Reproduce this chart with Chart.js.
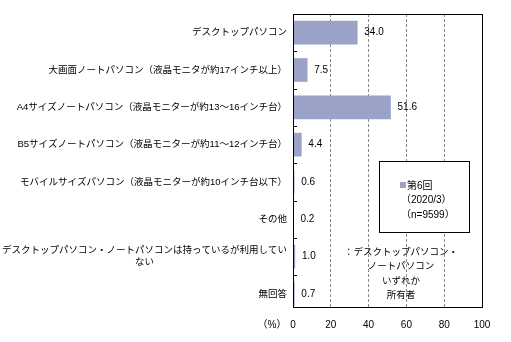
<!DOCTYPE html>
<html>
<head>
<meta charset="utf-8">
<script src="https://cdn.jsdelivr.net/npm/chart.js@4.4.0/dist/chart.umd.min.js"></script>
<style>
  body { margin: 0; background: #fff; }
  canvas { display: block; }
</style>
</head>
<body>
<canvas id="myChart" width="511" height="342"></canvas>
<script>
const categories = [
  'デスクトップパソコン',
  '大画面ノートパソコン（液晶モニタが約17インチ以上）',
  'A4サイズノートパソコン（液晶モニターが約13～16インチ台）',
  'B5サイズノートパソコン（液晶モニターが約11～12インチ台）',
  'モバイルサイズパソコン（液晶モニターが約10インチ台以下）',
  'その他',
  ['デスクトップパソコン・ノートパソコンは持っているが利用してい', 'ない'],
  '無回答'
];
const values = [34.0, 7.5, 51.6, 4.4, 0.6, 0.2, 1.0, 0.7];
const seriesLabel = '第6回';
const legendNotes = ['（2020/3）', '（n=9599）'];
const footNote = ['：デスクトップパソコン・', 'ノートパソコン', 'いずれか', '所有者'];
const xTicks = [0, 20, 40, 60, 80, 100];

const barColor = '#9aa2c8';
const fontJP = '"Liberation Sans", "Noto Sans CJK JP", sans-serif';

// labels, frame, tick marks, legend box and notes
const overlay = {
  id: 'overlay',
  afterDatasetsDraw(chart) {
    const { ctx, chartArea: a, scales: { y } } = chart;
    ctx.save();
    ctx.strokeStyle = '#000';
    ctx.lineWidth = 1;
    ctx.strokeRect(a.left + 0.5, a.top + 0.5, a.right - a.left, a.bottom - a.top);

    // small inward ticks between categories
    for (let i = 0; i < categories.length - 1; i++) {
      const yy = Math.round(y.getPixelForValue(i + 0.5)) + 0.5;
      ctx.beginPath();
      ctx.moveTo(a.left, yy);
      ctx.lineTo(a.left + 4, yy);
      ctx.stroke();
    }

    // category labels
    ctx.fillStyle = '#000';
    ctx.font = '9.5px ' + fontJP;
    ctx.textBaseline = 'middle';
    const lh = 12.5;
    categories.forEach((c, i) => {
      const lines = Array.isArray(c) ? c : [c];
      const cy = y.getPixelForValue(i);
      const w = Math.max(...lines.map(l => ctx.measureText(l).width));
      const right = a.left - 6;
      ctx.textAlign = 'center';
      lines.forEach((l, k) => {
        ctx.fillText(l, right - w / 2, cy + (k - (lines.length - 1) / 2) * lh);
      });
    });

    // value labels
    ctx.font = '10px ' + fontJP;
    ctx.textAlign = 'left';
    chart.getDatasetMeta(0).data.forEach((bar, i) => {
      ctx.fillText(values[i].toFixed(1), bar.x + 7, bar.y);
    });

    // (%) unit
    ctx.textAlign = 'center';
    ctx.fillText('（%）', 272, 325);

    // legend box
    ctx.fillStyle = '#fff';
    ctx.fillRect(379, 161, 90, 71);
    ctx.strokeRect(379.5, 161.5, 90, 71);
    ctx.fillStyle = barColor;
    ctx.fillRect(400, 182, 6, 6);
    ctx.fillStyle = '#000';
    ctx.textAlign = 'left';
    ctx.fillText(seriesLabel, 407, 186);
    legendNotes.forEach((t, k) => ctx.fillText(t, 401, 200 + k * 15));

    // note under legend
    ctx.font = '9.5px ' + fontJP;
    ctx.textAlign = 'center';
    footNote.forEach((t, k) => ctx.fillText(t, 401, 252 + k * 14.5));
    ctx.restore();
  }
};

new Chart(document.getElementById('myChart'), {
  type: 'bar',
  data: {
    datasets: [{
      label: seriesLabel,
      data: values.map((v, i) => ({ x: v, y: i })),
      backgroundColor: barColor,
      borderWidth: 0,
      barThickness: 23
    }]
  },
  options: {
    indexAxis: 'y',
    responsive: false,
    animation: false,
    devicePixelRatio: 1,
    layout: { padding: { left: 293, top: 14, right: 29, bottom: 0 } },
    scales: {
      x: {
        type: 'linear',
        min: 0,
        max: 100,
        afterFit: s => { s.height = 35; },
        afterBuildTicks: s => { s.ticks = xTicks.map(v => ({ value: v })); },
        ticks: {
          color: '#000',
          padding: 12,
          font: { family: fontJP, size: 10 }
        },
        grid: { color: '#888', drawTicks: false },
        border: { display: false, dash: [3, 2] }
      },
      y: {
        type: 'linear',
        reverse: true,
        offset: false,
        min: -0.5,
        max: 7.35,
        display: false
      }
    },
    plugins: {
      legend: { display: false },
      tooltip: { enabled: false }
    }
  },
  plugins: [overlay]
});
</script>
</body>
</html>
